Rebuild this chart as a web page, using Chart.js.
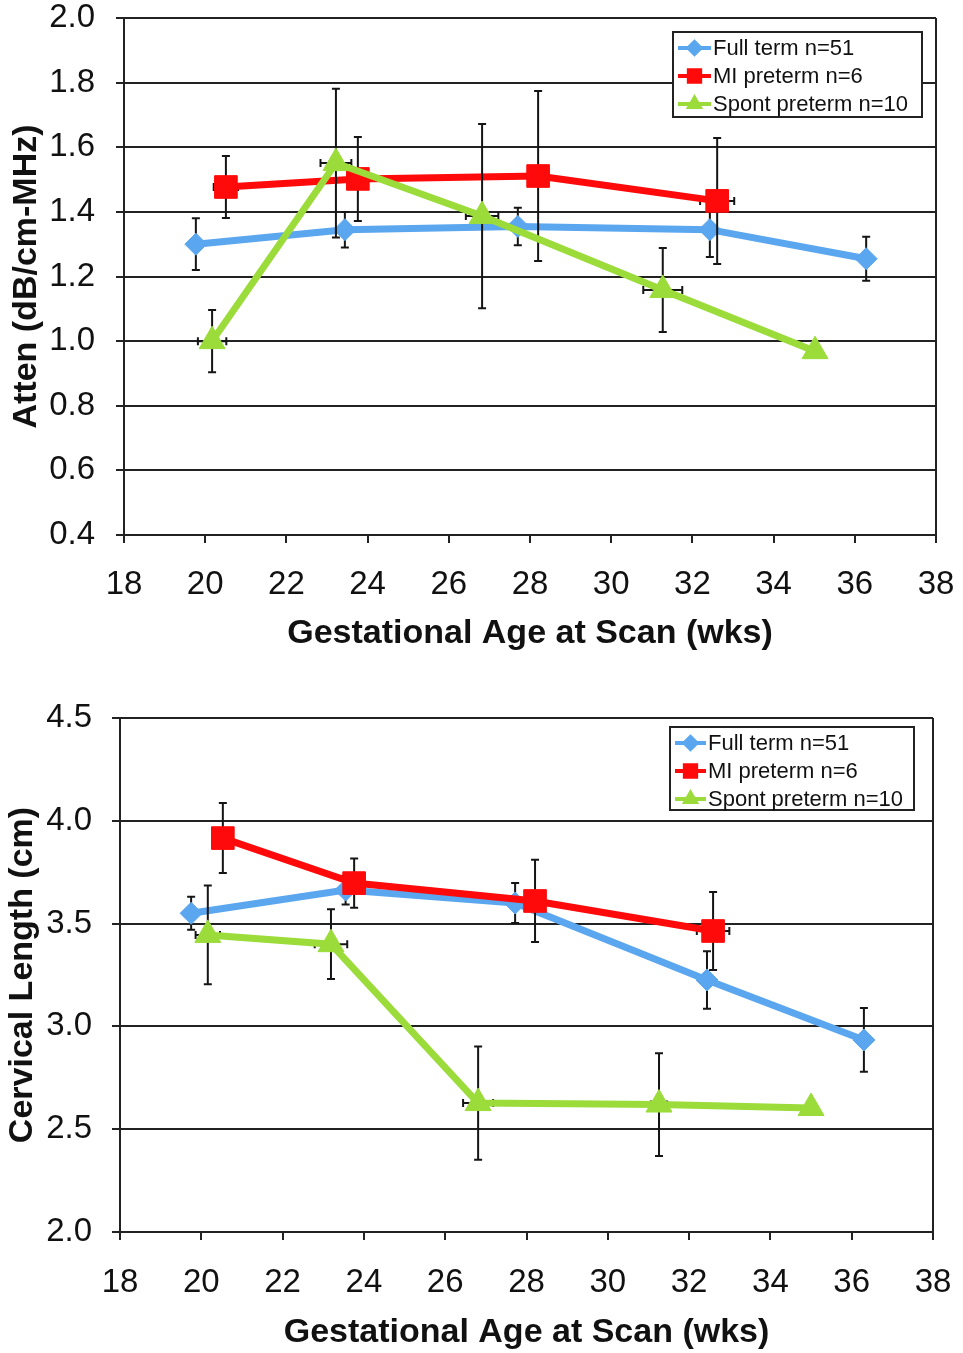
<!DOCTYPE html>
<html><head><meta charset="utf-8">
<script src="https://cdn.jsdelivr.net/npm/chart.js@4.4.0/dist/chart.umd.min.js"></script>
<style>
html,body{margin:0;padding:0;background:#fff;width:963px;height:1353px;overflow:hidden}
.wrap{position:absolute;left:0;width:963px}
</style></head><body>
<div class="wrap" style="top:0;height:676px"><canvas id="c1"></canvas></div>
<div class="wrap" style="top:676px;height:677px"><canvas id="c2"></canvas></div>
<script>
// ---------- data ----------
const seriesNames = ['Full term n=51', 'MI preterm n=6', 'Spont preterm n=10'];
const ageTicks = [18, 20, 22, 24, 26, 28, 30, 32, 34, 36, 38];
const attenTicks = [0.4, 0.6, 0.8, 1.0, 1.2, 1.4, 1.6, 1.8, 2.0];
const clTicks = [2.0, 2.5, 3.0, 3.5, 4.0, 4.5];

// Top chart: attenuation
const attenFullX = [19.77, 23.44, 27.70, 32.43, 36.28];
const attenFullY = [1.300, 1.345, 1.355, 1.345, 1.255];
const attenFullErr = [0.080, 0.055, 0.058, 0.085, 0.068];
const attenFullXErr = [0, 0, 0, 0, 0];

const attenMiX = [20.51, 23.76, 28.20, 32.61];
const attenMiY = [1.477, 1.502, 1.511, 1.434];
const attenMiErr = [0.096, 0.130, 0.263, 0.195];
const attenMiXErr = [0.30, 0.25, 0.25, 0.42];

const attenSpX = [20.17, 23.22, 26.82, 31.27, 35.02];
const attenSpY = [1.000, 1.551, 1.387, 1.158, 0.969];
const attenSpErr = [0.096, 0.230, 0.285, 0.130, 0];
const attenSpXErr = [0.35, 0.38, 0.40, 0.48, 0];

// Bottom chart: cervical length
const clFullX = [19.75, 23.55, 27.72, 32.44, 36.30];
const clFullY = [3.550, 3.663, 3.600, 3.226, 2.934];
const clFullErr = [0.080, 0.070, 0.097, 0.140, 0.155];
const clFullXErr = [0.15, 0, 0, 0, 0];

const clMiX = [20.53, 23.76, 28.21, 32.59];
const clMiY = [3.916, 3.697, 3.610, 3.464];
const clMiErr = [0.170, 0.120, 0.200, 0.190];
const clMiXErr = [0.20, 0.20, 0.20, 0.40];

const clSpX = [20.16, 23.19, 26.81, 31.26, 35.00];
const clSpY = [3.445, 3.400, 2.627, 2.620, 2.603];
const clSpErr = [0.240, 0.170, 0.275, 0.250, 0];
const clSpXErr = [0.30, 0.40, 0.37, 0.20, 0];

// ---------- styling ----------
const FONT = '"Liberation Sans", Arial, Helvetica, sans-serif';
const BLUE = '#5aa6ef', RED = '#ff0a0a', GREEN = '#9bdc3a';

const errorBars = {
  id: 'errorBars',
  beforeDatasetDraw(chart, args) {
    const ds = chart.data.datasets[args.index];
    if (!ds.yErr) return;
    const xs = chart.scales.x, ys = chart.scales.y, ctx = chart.ctx;
    const cap = 4;
    ctx.save();
    ctx.strokeStyle = '#151515';
    ctx.lineWidth = 2;
    ds.data.forEach((p, i) => {
      const px = xs.getPixelForValue(p.x), py = ys.getPixelForValue(p.y);
      const ye = ds.yErr[i] || 0, xe = (ds.xErr && ds.xErr[i]) || 0;
      ctx.beginPath();
      if (ye > 0) {
        const t = ys.getPixelForValue(p.y + ye), b = ys.getPixelForValue(p.y - ye);
        ctx.moveTo(px, t); ctx.lineTo(px, b);
        ctx.moveTo(px - cap, t); ctx.lineTo(px + cap, t);
        ctx.moveTo(px - cap, b); ctx.lineTo(px + cap, b);
      }
      if (xe > 0) {
        const l = xs.getPixelForValue(p.x - xe), r = xs.getPixelForValue(p.x + xe);
        ctx.moveTo(l, py); ctx.lineTo(r, py);
        ctx.moveTo(l, py - cap); ctx.lineTo(l, py + cap);
        ctx.moveTo(r, py - cap); ctx.lineTo(r, py + cap);
      }
      ctx.stroke();
    });
    ctx.restore();
  }
};

const frame = {
  id: 'frame',
  afterDatasetsDraw(chart) {
    const ca = chart.chartArea, ctx = chart.ctx;
    ctx.save();
    ctx.strokeStyle = '#222';
    ctx.lineWidth = 2;
    ctx.beginPath();
    ctx.moveTo(ca.right, ca.top); ctx.lineTo(ca.right, ca.bottom);
    ctx.stroke();
    ctx.restore();
  }
};

const boxLegend = {
  id: 'boxLegend',
  afterDraw(chart, args, o) {
    const ctx = chart.ctx, ca = chart.chartArea;
    const x0 = ca.right - o.right - o.width, y0 = ca.top + o.top;
    ctx.save();
    ctx.fillStyle = '#fff';
    ctx.fillRect(x0, y0, o.width, o.height);
    ctx.strokeStyle = '#222';
    ctx.lineWidth = 2;
    ctx.strokeRect(x0, y0, o.width, o.height);
    ctx.font = '22px ' + FONT;
    ctx.textBaseline = 'middle';
    chart.data.datasets.forEach((ds, i) => {
      const cy = y0 + 16 + i * 28;
      ctx.strokeStyle = ds.borderColor;
      ctx.lineWidth = 4;
      ctx.beginPath();
      ctx.moveTo(x0 + 5, cy); ctx.lineTo(x0 + o.textX - 2, cy);
      ctx.stroke();
      ctx.fillStyle = ds.backgroundColor;
      ctx.strokeStyle = ds.borderColor;
      Chart.helpers.drawPoint(ctx, {pointStyle: ds.pointStyle, radius: ds.pointStyle === 'rect' ? 8 : 6, borderWidth: 1, rotation: 0}, x0 + 5 + (o.textX - 7) / 2, cy);
      ctx.fillStyle = '#111';
      ctx.fillText(ds.label, x0 + o.textX, cy + 1);
    });
    ctx.restore();
  }
};

function pts(xs, ys) { return xs.map((x, i) => ({x: x, y: ys[i]})); }

function series(label, color, style, radius, xs, ys, yErr, xErr, order) {
  return {
    label: label, data: pts(xs, ys), yErr: yErr, xErr: xErr,
    borderColor: color, backgroundColor: color, borderWidth: 7,
    pointStyle: style, pointRadius: radius, pointBorderWidth: 1,
    pointBackgroundColor: color, pointBorderColor: color,
    tension: 0, order: order, clip: false
  };
}

function noPad(s) { s.paddingTop = 0; s.paddingBottom = 0; s.paddingLeft = 0; s.paddingRight = 0; }

function build(id, c) {
  return new Chart(document.getElementById(id), {
    type: 'line',
    data: {datasets: c.datasets},
    options: {
      responsive: true, maintainAspectRatio: false, animation: false,
      events: [],
      layout: {padding: {top: c.padTop, right: c.padRight, left: 0, bottom: 0}},
      plugins: {legend: {display: false}, tooltip: {enabled: false}, boxLegend: c.legend},
      scales: {
        x: {
          type: 'linear', min: 18, max: 38,
          afterBuildTicks: s => { s.ticks = ageTicks.map(v => ({value: v})); },
          afterFit: s => { s.height = c.xAxisH; noPad(s); },
          grid: {drawOnChartArea: false, drawTicks: true, tickLength: 8, color: '#222', lineWidth: 2},
          border: {color: '#222', width: 2},
          ticks: {font: {size: 33, family: FONT, lineHeight: 1}, color: '#111', padding: c.xTickPad, maxRotation: 0, autoSkip: false},
          title: {display: true, text: 'Gestational Age at Scan (wks)', color: '#111',
                  font: {size: 34, weight: 'bold', family: FONT, lineHeight: 1.2}, padding: {top: 0, bottom: c.xTitlePad}}
        },
        y: {
          type: 'linear', min: c.yTicks[0], max: c.yTicks[c.yTicks.length - 1],
          afterBuildTicks: s => { s.ticks = c.yTicks.map(v => ({value: v})); },
          afterFit: s => { s.width = c.yAxisW; noPad(s); },
          grid: {drawOnChartArea: true, drawTicks: true, tickLength: 8, color: '#222', lineWidth: 2},
          border: {color: '#222', width: 2},
          ticks: {font: {size: 33, family: FONT, lineHeight: 1}, color: '#111', padding: c.yTickPad,
                  callback: v => Number(v).toFixed(1)},
          title: {display: true, text: c.yTitle, color: '#111',
                  font: {size: 34, weight: 'bold', family: FONT, lineHeight: 1.2}, padding: {top: c.yTitlePad, bottom: 0}}
        }
      }
    },
    plugins: [errorBars, frame, boxLegend]
  });
}

build('c1', {
  datasets: [
    series(seriesNames[0], BLUE, 'rectRot', 11, attenFullX, attenFullY, attenFullErr, attenFullXErr, 2),
    series(seriesNames[1], RED, 'rect', 16, attenMiX, attenMiY, attenMiErr, attenMiXErr, 1),
    series(seriesNames[2], GREEN, 'triangle', 15, attenSpX, attenSpY, attenSpErr, attenSpXErr, 0)
  ],
  yTicks: attenTicks, yTitle: 'Atten (dB/cm-MHz)',
  padTop: 18, padRight: 27, yAxisW: 124, xAxisH: 141,
  xTickPad: 25, xTitlePad: 22, yTickPad: 21, yTitlePad: 6,
  legend: {right: 14, top: 14, width: 249, height: 85, textX: 40}
});

build('c2', {
  datasets: [
    series(seriesNames[0], BLUE, 'rectRot', 11, clFullX, clFullY, clFullErr, clFullXErr, 2),
    series(seriesNames[1], RED, 'rect', 16, clMiX, clMiY, clMiErr, clMiXErr, 1),
    series(seriesNames[2], GREEN, 'triangle', 15, clSpX, clSpY, clSpErr, clSpXErr, 0)
  ],
  yTicks: clTicks, yTitle: 'Cervical Length (cm)',
  padTop: 42, padRight: 30, yAxisW: 120, xAxisH: 121,
  xTickPad: 26, xTitlePad: 0, yTickPad: 20, yTitlePad: 2,
  legend: {right: 19, top: 9, width: 244, height: 83, textX: 38}
});
</script>
</body></html>
